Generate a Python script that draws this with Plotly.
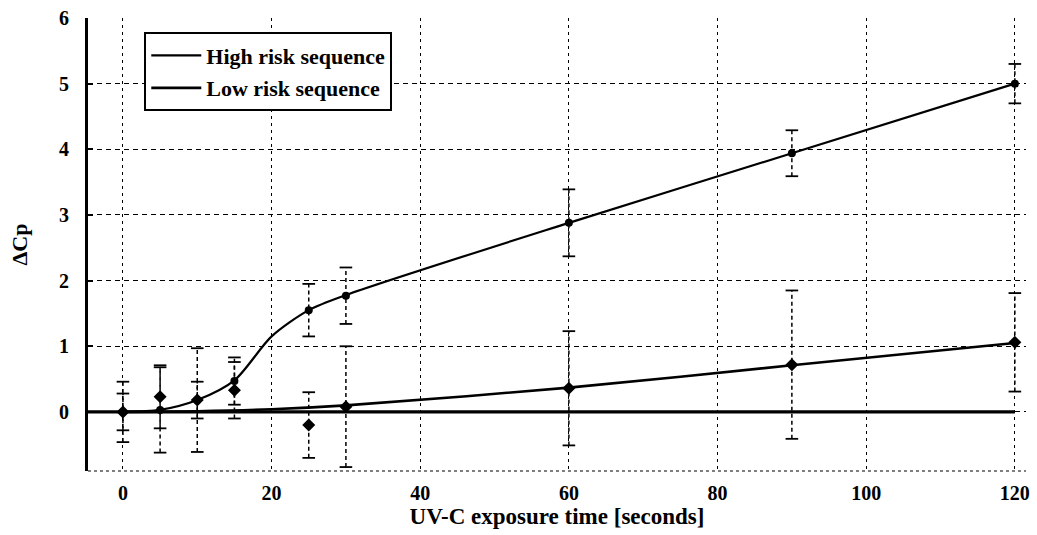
import plotly.graph_objects as go

times = [0, 5, 10, 15, 25, 30, 60, 90, 120]
high_y = [0.0, 0.03, 0.18, 0.47, 1.55, 1.77, 2.88, 3.94, 5.0]
high_err = [0.46, 0.65, 0.79, 0.36, 0.40, 0.43, 0.51, 0.35, 0.30]
low_y = [0.0, 0.23, 0.18, 0.33, -0.20, 0.08, 0.36, 0.72, 1.06]
low_err = [0.28, 0.48, 0.28, 0.43, 0.50, 0.92, 0.87, 1.13, 0.75]

# Fitted curves
high_fit_x = [0, 5, 10, 15, 20, 25, 30, 60, 90, 120]
high_fit_y = [0.0, 0.03, 0.18, 0.48, 1.15, 1.55, 1.78, 2.88, 3.94, 5.0]
low_fit_x = [0, 10, 20, 30, 60, 90, 120]
low_fit_y = [0.0, 0.01, 0.04, 0.10, 0.37, 0.71, 1.05]

x_ticks = [0, 20, 40, 60, 80, 100, 120]
y_ticks = [0, 1, 2, 3, 4, 5, 6]
x_range = [-4.7, 121.5]
y_range = [-0.9, 6.0]

FONT = "Liberation Serif"

fig = go.Figure()


def err_segments(xs, ys, es):
    sx, sy = [], []
    for x, y, e in zip(xs, ys, es):
        sx += [x, x, None]
        sy += [y - e, y + e, None]
    return sx, sy


for ys, es in [(high_y, high_err), (low_y, low_err)]:
    sx, sy = err_segments(times, ys, es)
    fig.add_trace(go.Scatter(x=sx, y=sy, mode="lines", showlegend=False,
                             line=dict(color="black", width=1.5, dash="4px,3px"),
                             hoverinfo="skip"))
    cx = times + times
    cy = [y + e for y, e in zip(ys, es)] + [y - e for y, e in zip(ys, es)]
    fig.add_trace(go.Scatter(x=cx, y=cy, mode="markers", showlegend=False,
                             marker=dict(symbol="line-ew", size=9,
                                         line=dict(color="black", width=1.8)),
                             hoverinfo="skip"))

# zero reference line, from the axis to the last exposure time
fig.add_trace(go.Scatter(x=[x_range[0], max(times)], y=[0, 0], mode="lines",
                         showlegend=False, hoverinfo="skip",
                         line=dict(color="black", width=3.2)))

# fitted curves (legend entries)
fig.add_trace(go.Scatter(x=high_fit_x, y=high_fit_y, mode="lines",
                         name="High risk sequence", legendgroup="a",
                         line=dict(color="black", width=2.2, shape="spline", smoothing=0.8)))
fig.add_trace(go.Scatter(x=low_fit_x, y=low_fit_y, mode="lines",
                         name="Low risk sequence", legendgroup="b",
                         line=dict(color="black", width=2.6, shape="spline", smoothing=0.8)))

# markers
fig.add_trace(go.Scatter(x=times, y=high_y, mode="markers", showlegend=False,
                         marker=dict(symbol="circle", size=8, color="black")))
fig.add_trace(go.Scatter(x=times, y=low_y, mode="markers", showlegend=False,
                         marker=dict(symbol="diamond", size=10, color="black")))

fig.update_layout(
    width=1037, height=535,
    margin=dict(l=88, r=7, t=18, b=64),
    paper_bgcolor="white", plot_bgcolor="white",
    font=dict(family=FONT, color="black", size=16),
    legend=dict(x=0.06, y=0.968, xanchor="left", yanchor="top",
                bgcolor="white", bordercolor="black", borderwidth=2,
                font=dict(family=FONT, size=22, color="black", weight="bold"),
                itemwidth=50, tracegroupgap=1),
    showlegend=True,
)

fig.update_xaxes(range=x_range, tickvals=x_ticks, ticktext=[str(v) for v in x_ticks],
                 showgrid=True, gridcolor="black", gridwidth=1, griddash="3px,4px",
                 zeroline=False, showline=False, ticks="",
                 ticklabelstandoff=8,
                 tickfont=dict(family=FONT, size=20, weight="bold"),
                 title=dict(text="UV-C exposure time [seconds]", standoff=4,
                            font=dict(family=FONT, size=23, weight="bold")))
fig.update_yaxes(range=y_range, tickvals=y_ticks, ticktext=[str(v) for v in y_ticks],
                 showgrid=True, gridcolor="black", gridwidth=1, griddash="5px,4px",
                 zeroline=False,
                 showline=True, linecolor="black", linewidth=3,
                 ticks="inside", ticklen=5, tickcolor="black", tickwidth=1.5,
                 ticklabelstandoff=12,
                 tickfont=dict(family=FONT, size=20, weight="bold"),
                 title=dict(text="ΔCp", standoff=26,
                            font=dict(family=FONT, size=22, weight="bold")))

# dotted bottom border
fig.add_shape(type="line", xref="paper", yref="paper", x0=0, x1=1, y0=0, y1=0,
              line=dict(color="black", width=1.2, dash="dot"))

fig.write_html("out.html")
